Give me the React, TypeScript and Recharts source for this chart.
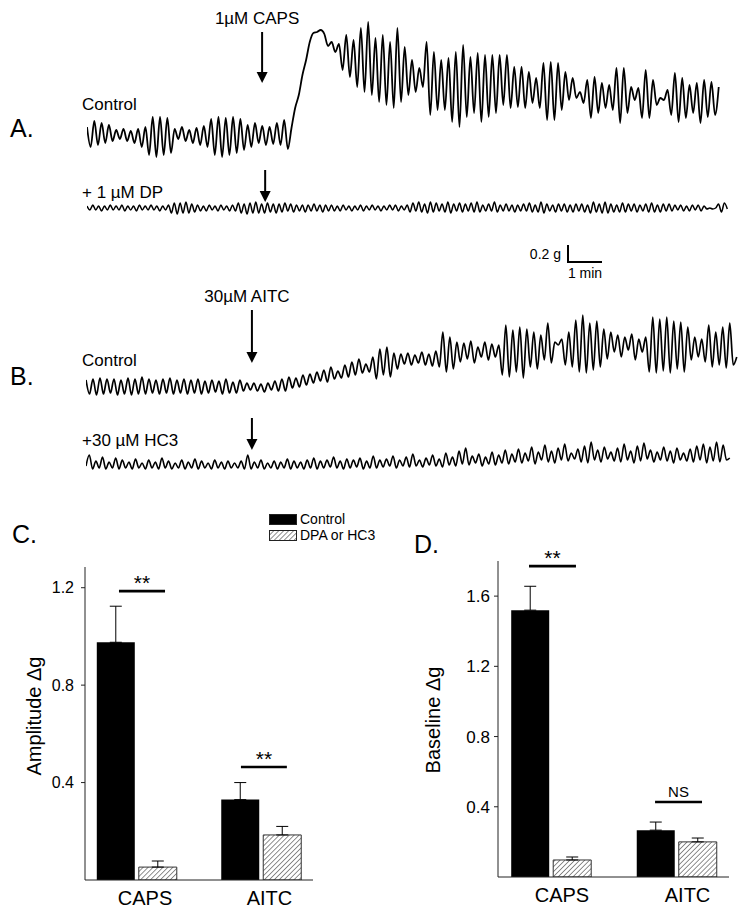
import * as React from 'react';
import { LineChart, Line, BarChart, Bar, ErrorBar, XAxis, YAxis, ReferenceLine, Legend } from 'recharts';

const FONT = '"Liberation Sans", Arial, Helvetica, sans-serif';
const PX_PER_MIN = 34; // width of the 1 min scale bar

// Tension traces relative to the resting level of each trace.
// 17 units = 0.2 g (vertical scale bar). One sample every *Dt minutes.
const capsDt = 0.1074;
const capsControl = [
  8, -12, 14, -10, 12, -8, 10, -6,
  5, -4, 6, -6, 4, -8, 6, -12, 8,
  -20, 18, -22, 18, -20, 17, -18,
  6, -4, 8, -6, 5, -8, 7, -10, 9, -12,
  16, -20, 18, -22, 17, -20, 18, -18, 16, -15,
  10, -12, 12, -8, 9, -10, 8, -9, 12, -10,
  15, -14,
  7, 27, 40, 60, 75, 93, 102, 103, 105, 101, 89, 93, 83, 91, 65, 100,
  58, 95, 48, 107, 43, 113, 40, 97, 33, 100, 30, 93, 27, 107, 33, 88, 40, 75, 43, 67,
  48, 93, 20, 83, 25, 75, 25, 77, 13, 83, 8, 90, 18, 78, 22, 82, 13, 80, 18, 80, 22, 80, 30,
  80, 27, 68, 28, 68, 27, 63, 32, 57, 27, 72, 15, 73, 15, 72, 25, 63, 35, 57, 37,
  43, 32, 55, 17, 58, 22, 52, 27, 50, 25, 67, 12, 67, 22, 48, 35, 47, 17, 65, 17,
  55, 30, 37, 35, 45, 20, 62, 13, 57, 17, 50, 22, 52, 12, 55, 18, 53, 20, 48,
];

const dpDt = 0.0856;
const capsWithDP = [
  2, -2, 3, -2, 2, -3, 2, -2, 3, -2, 2, -2, 3, -3, 2, -2, 2, -3, 3, -2, 2, -2, 3, -2, 2, -3, 2, -2, 3,
  -5, 5, -6, 5, -5, 6, -5, 4, -4,
  3, -3, 2, -3, 3, -2, 2, -3, 3, -2, 2, -3, 3, -3,
  5, -5, 4, -6, 5, -5, 6, -5, 4, -5, 5,
  -4, 4, -5, 4, -4, 5, -3, 4, -4, 3,
  -3, 3, -4, 3, -3, 4, -3, 3, -4, 3, -3, 3, -3,
  2, -3, 3, -2, 2, -3, 2, -2, 3, -3, 2, -2, 3, -2, 2, -3, 2, -2, 3, -2, 3, -3, 2, -2, 3,
  -4, 5, -3, 6, -4, 4, -5, 6, -4, 5, -3, 4, -4, 6, -5, 4, -3, 5, -4, 4, -3, 5, -4, 6, -4,
  3, -3, 4, -3, 6, -4, 3, -3, 4, -3, 3, -4, 3, -3, 4, -3, 5, -4, 3, -4, 6, -5, 4, -3, 3,
  -4, 4, -3, 4, -4, 3, -4, 4, -3, 4, -4, 3, -5, 6, -4, 4, -5, 6, -5, 4,
  -4, 3, -4, 5, -4, 4, -3, 4, -4, 3, -3, 4, -4, 5, -4, 3, -4, 4, -3, 4,
  -3, 3, -2, 3, -3, 2, -3, 3, -2, 3, -3, 2,
  -1, 0, -1, 0,
  4, -4, 5, -1,
];

const aitcDt = 0.1029;
const aitcControl = [
  7, -7, 8, -8, 9, -7, 8, -6, 8, -8, 7, -7, 9, -8, 8, -7,
  10, -7, 8, -6, 7, -7, 8, -6, 9, -7, 7, -6, 8, -7, 7,
  -6, 8, -7, 6, -6, 7, -5, 6, -7, 8, -6, 5, -6, 7,
  -4, 4, -3, 4, -4, 3, -5, 4, -3, 6, -4,
  8, -4, 10, -1, 9, 0, 12, 2, 13, 4, 15, 6, 17, 5, 20, 8, 16, 9, 22, 10,
  25, 12, 28, 14, 23, 15, 30, 8, 38, 12, 40, 10, 34, 18,
  33, 23, 34, 22, 32, 24, 35, 22, 33, 21, 36, 20,
  55, 15, 50, 18, 45,
  25, 44, 28, 46, 24, 40, 30, 45, 27, 43, 30, 42,
  12, 62, 10, 57, 15, 60, 9, 58, 20, 55, 18, 52,
  27, 64, 24, 45, 42, 48, 22, 55, 20,
  67, 15, 72, 14, 64, 17, 66, 20, 58,
  28, 55, 35, 52, 30, 50, 37, 53, 27, 48, 35, 50,
  15, 70, 14, 68, 16, 70, 14, 66, 18, 65, 15, 60,
  27, 50, 30, 48, 25,
  62, 20, 55, 22, 60, 19, 64, 22, 30,
];

const hc3Dt = 0.0971;
const aitcWithHC3 = [
  0, 11, -3, 5, -2, 9, -3, 4, -2, 8, -3, 6, -2, 4, -3, 7, -2, 3, -3, 6,
  -2, 4, -3, 8, -2, 5, -3, 3, -2, 6, -3, 4, -2, 7, -3, 5, -2, 3, -3, 6,
  -2, 4, -3, 5, -2, 3, -2, 5, -3, 11,
  -3, 4, -2, 6, -3, 3, -2, 5, -3, 4, -2, 7, -3, 5, -2, 4, -3, 6, -2, 8,
  -3, 5, -2, 6, -1, 9, -2, 5, -3, 7, -2, 6, -1, 8, -3, 5, -2, 10, -2, 6,
  -1, 7, 0, 10, -2, 6, 0, 9, -1, 12, 0, 6, -1, 8, 1, 11, 0, 7, -1, 13,
  1, 9, 0, 15, 2, 18, 1, 10, 3, 12, 0, 9, 2, 14, 1, 11, 3, 16, 2, 12, 4,
  17, 3, 13, 5, 19, 2, 14, 6, 21, 4, 15, 3, 18, 6, 22, 5, 13, 7, 17, 4,
  20, 3, 24, 6, 16, 4, 19, 7, 14, 5, 18, 4, 22, 6, 15, 3, 20, 5, 23, 7,
  16, 4, 14, 6, 19, 5, 15, 3, 18, 6, 13, 5, 17, 4, 20, 6, 22, 3, 19, 5,
  24, 4, 21, 6, 8,
];

// drug application arrows: time (min), arrow from / to (trace units)
const capsMarker = { t: 5.15, from: 103, to: 52, label: '1µM CAPS' };
const dpMarker = { t: 5.24, from: 38, to: 6 };
const aitcMarker = { t: 4.88, from: 77, to: 24, label: '30µM AITC' };
const hc3Marker = { t: 4.88, from: 48, to: 16 };

// scale bar: 0.2 g (17 units) by 1 min
const scaleBar = [
  { t: 0, v: 17 },
  { t: 0, v: 0 },
  { t: 1, v: 0 },
];

// C and D: mean and SEM
const groups = ['CAPS', 'AITC'];
const groupPos = [1, 2];
const ampControl = [0.976, 0.33];
const ampControlSem = [0.148, 0.07];
const ampBlocked = [0.053, 0.185];
const ampBlockedSem = [0.025, 0.035];
const baseControl = [1.52, 0.267];
const baseControlSem = [0.136, 0.046];
const baseBlocked = [0.097, 0.2];
const baseBlockedSem = [0.017, 0.022];
const ampSig = [
  { x1: 0.855, x2: 1.225, y: 1.186, text: '**' },
  { x1: 1.835, x2: 2.204, y: 0.464, text: '**' },
];
const baseSig = [
  { x1: 0.825, x2: 1.199, y: 1.771, text: '**' },
  { x1: 1.829, x2: 2.203, y: 0.427, text: 'NS' },
];

type Marker = { t: number; from: number; to: number; label?: string };

const arrowShape = (label?: string) => (p: any) => {
  const x = p.x1;
  const y0 = Math.min(p.y1, p.y2);
  const y1 = Math.max(p.y1, p.y2);
  return (
    <g>
      <line x1={x} y1={y0} x2={x} y2={y1 - 9} stroke="#000" strokeWidth={2} />
      <polygon points={`${x - 5.5},${y1 - 11} ${x + 5.5},${y1 - 11} ${x},${y1}`} fill="#000" />
      {label ? (
        <text x={x - 5} y={y0 - 8} textAnchor="middle" fontSize={17} fontFamily={FONT} fill="#000">
          {label}
        </text>
      ) : null}
    </g>
  );
};

function Trace(props: {
  values: number[];
  dt: number;
  left: number;
  top: number;
  width: number;
  height: number;
  range: [number, number];
  marker: Marker;
  weight: number;
}) {
  const { values, dt, left, top, width, height, range, marker, weight } = props;
  const data = values.map((v, i) => ({ t: i * dt, v }));
  return (
    <div style={{ position: 'absolute', left, top }}>
      <LineChart width={width} height={height} data={data} margin={{ top: 0, right: 0, bottom: 0, left: 0 }}>
        <XAxis dataKey="t" type="number" domain={[0, width / PX_PER_MIN]} hide allowDataOverflow />
        <YAxis type="number" domain={range} hide allowDataOverflow />
        <Line
          dataKey="v"
          type="monotone"
          stroke="#000"
          strokeWidth={weight}
          strokeLinejoin="round"
          dot={false}
          isAnimationActive={false}
        />
        <ReferenceLine
          segment={[{ x: marker.t, y: marker.from }, { x: marker.t, y: marker.to }]}
          shape={arrowShape(marker.label)}
        />
      </LineChart>
    </div>
  );
}

const CatTick = (props: any) => {
  const { x, y, payload, shift } = props;
  return (
    <text x={x + shift} y={y + 25} textAnchor="middle" fontSize={20} fontFamily={FONT} fill="#000">
      {groups[groupPos.indexOf(payload.value)]}
    </text>
  );
};

const renderLegend = (props: any) => (
  <div style={{ fontFamily: FONT, fontSize: 14, color: '#000', lineHeight: '16px' }}>
    {(props.payload || []).map((p: any) => (
      <div key={p.value} style={{ display: 'flex', alignItems: 'center', height: 16 }}>
        <svg width={29} height={11} style={{ marginRight: 2 }}>
          <rect x={0.5} y={0.5} width={27} height={10} fill={(p.payload && p.payload.fill) || p.color} stroke="#222" />
        </svg>
        <span>{p.value}</span>
      </div>
    ))}
  </div>
);

function BarPanel(props: {
  left: number;
  width: number;
  control: number[];
  controlSem: number[];
  blocked: number[];
  blockedSem: number[];
  sig: { x1: number; x2: number; y: number; text: string }[];
  yMax: number;
  yTicks: number[];
  xDomain: [number, number];
  marginTop: number;
  marginRight: number;
  xAxisHeight: number;
  yAxisWidth: number;
  tickMargin: number;
  tickFont: number;
  labelShift: number;
  title: string;
  titleX: number;
  titleY: number;
  patternId: string;
  showLegend?: boolean;
}) {
  const p = props;
  const rows = groups.map((name, i) => ({
    pos: groupPos[i],
    name,
    control: p.control[i],
    controlErr: [0, p.controlSem[i]],
    blocked: p.blocked[i],
    blockedErr: [0, p.blockedSem[i]],
  }));
  return (
    <div style={{ position: 'absolute', left: p.left, top: 500 }}>
      <BarChart
        width={p.width}
        height={420}
        data={rows}
        margin={{ top: p.marginTop, right: p.marginRight, bottom: 0, left: 0 }}
        barSize={38}
        barGap={4}
      >
        <defs>
          <pattern id={p.patternId} width={3.5} height={3.5} patternUnits="userSpaceOnUse" patternTransform="rotate(45)">
            <rect width={3.5} height={3.5} fill="#fff" />
            <line x1={0} y1={0} x2={0} y2={3.5} stroke="#555" strokeWidth={1.3} />
          </pattern>
        </defs>
        <XAxis
          dataKey="pos"
          type="number"
          domain={p.xDomain}
          ticks={groupPos}
          allowDataOverflow
          height={p.xAxisHeight}
          tickLine={false}
          tickSize={0}
          tickMargin={0}
          stroke="#222"
          tick={<CatTick shift={p.labelShift} />}
        />
        <YAxis
          type="number"
          domain={[0, p.yMax]}
          ticks={p.yTicks}
          allowDataOverflow
          width={p.yAxisWidth}
          tickSize={4}
          tickMargin={p.tickMargin}
          stroke="#222"
          tick={{ fontSize: p.tickFont, fill: '#000', fontFamily: FONT }}
          tickFormatter={(v: number) => v.toFixed(1)}
          label={{
            content: () => (
              <text
                x={p.titleX}
                y={p.titleY}
                transform={`rotate(-90 ${p.titleX} ${p.titleY})`}
                textAnchor="middle"
                dominantBaseline="central"
                fontSize={20}
                fontFamily={FONT}
                fill="#000"
              >
                {p.title}
              </text>
            ),
          }}
        />
        <Bar dataKey="control" name="Control" fill="#000" isAnimationActive={false}>
          <ErrorBar dataKey="controlErr" width={6} stroke="#000" strokeWidth={1} direction="y" />
        </Bar>
        <Bar dataKey="blocked" name="DPA or HC3" fill={`url(#${p.patternId})`} stroke="#333" strokeWidth={1} isAnimationActive={false}>
          <ErrorBar dataKey="blockedErr" width={6} stroke="#000" strokeWidth={1} direction="y" />
        </Bar>
        {p.sig.map((s) => (
          <ReferenceLine
            key={s.x1}
            segment={[{ x: s.x1, y: s.y }, { x: s.x2, y: s.y }]}
            stroke="#000"
            strokeWidth={2.6}
            label={{
              value: s.text,
              position: 'top',
              offset: s.text === 'NS' ? 5 : 1,
              fontSize: s.text === 'NS' ? 15 : 21,
              fill: '#000',
              fontFamily: FONT,
            }}
          />
        ))}
        {p.showLegend ? (
          <Legend
            layout="horizontal"
            align="center"
            verticalAlign="middle"
            content={renderLegend}
            wrapperStyle={{ left: 269, top: 11, width: 120 }}
          />
        ) : null}
      </BarChart>
    </div>
  );
}

export default function App() {
  const txt = { fontFamily: FONT, fill: '#000' };
  return (
    <div style={{ position: 'absolute', left: 0, top: 0, width: 750, height: 920, background: '#fff' }}>
      <Trace values={capsControl} dt={capsDt} left={87} top={0} width={640} height={170} range={[-35, 135]} marker={capsMarker} weight={1.8} />
      <Trace values={capsWithDP} dt={dpDt} left={87} top={165} width={645} height={60} range={[-17, 43]} marker={dpMarker} weight={1.5} />
      <Trace values={aitcControl} dt={aitcDt} left={86} top={280} width={655} height={130} range={[-23, 107]} marker={aitcMarker} weight={1.7} />
      <Trace values={aitcWithHC3} dt={hc3Dt} left={86} top={410} width={650} height={70} range={[-14, 56]} marker={hc3Marker} weight={1.6} />

      <div style={{ position: 'absolute', left: 560, top: 240 }}>
        <LineChart width={50} height={26} data={scaleBar} margin={{ top: 0, right: 8, bottom: 0, left: 8 }}>
          <XAxis dataKey="t" type="number" domain={[0, 1]} hide />
          <YAxis type="number" domain={[-4, 22]} hide />
          <Line dataKey="v" type="linear" stroke="#000" strokeWidth={2} dot={false} isAnimationActive={false} />
        </LineChart>
      </div>

      <BarPanel
        left={0}
        width={330}
        control={ampControl}
        controlSem={ampControlSem}
        blocked={ampBlocked}
        blockedSem={ampBlockedSem}
        sig={ampSig}
        yMax={1.285}
        yTicks={[0.4, 0.8, 1.2]}
        xDomain={[0.582, 2.414]}
        marginTop={67}
        marginRight={17}
        xAxisHeight={40}
        yAxisWidth={85}
        tickMargin={7}
        tickFont={16}
        labelShift={8}
        title="Amplitude Δg"
        titleX={34}
        titleY={216}
        patternId="hatchC"
        showLegend
      />
      <BarPanel
        left={380}
        width={370}
        control={baseControl}
        controlSem={baseControlSem}
        blocked={baseBlocked}
        blockedSem={baseBlockedSem}
        sig={baseSig}
        yMax={1.8}
        yTicks={[0.4, 0.8, 1.2, 1.6]}
        xDomain={[0.578, 2.418]}
        marginTop={61}
        marginRight={21}
        xAxisHeight={43}
        yAxisWidth={118}
        tickMargin={4}
        tickFont={17}
        labelShift={11}
        title="Baseline Δg"
        titleX={53}
        titleY={220}
        patternId="hatchD"
      />

      <svg width={750} height={920} style={{ position: 'absolute', left: 0, top: 0, pointerEvents: 'none' }}>
        <text x={10} y={137} fontSize={25} {...txt}>A.</text>
        <text x={10} y={385} fontSize={25} {...txt}>B.</text>
        <text x={12} y={543} fontSize={25} {...txt}>C.</text>
        <text x={414} y={553} fontSize={25} {...txt}>D.</text>
        <text x={82} y={110} fontSize={17} {...txt}>Control</text>
        <text x={82} y={198} fontSize={17} {...txt}>+ 1 µM DP</text>
        <text x={82} y={366} fontSize={17} {...txt}>Control</text>
        <text x={82} y={446} fontSize={17} {...txt}>+30 µM HC3</text>
        <text x={561} y={259} fontSize={14} textAnchor="end" {...txt}>0.2 g</text>
        <text x={585} y={278} fontSize={14} textAnchor="middle" {...txt}>1 min</text>
      </svg>
    </div>
  );
}
